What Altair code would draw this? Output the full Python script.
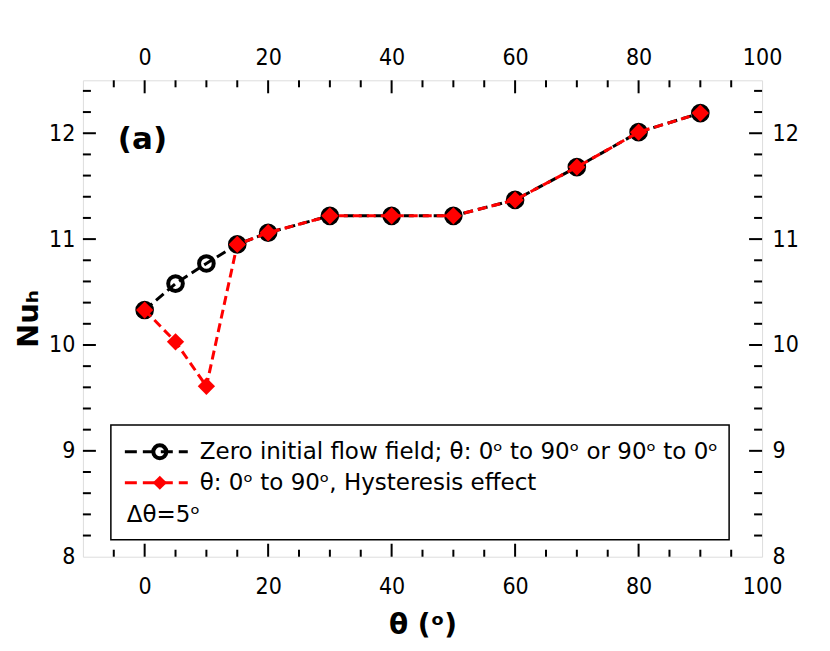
import altair as alt
import pandas as pd

# ---- data ----
theta = [0, 5, 10, 15, 20, 30, 40, 50, 60, 70, 80, 90]
nu_zero = [10.33, 10.58, 10.77, 10.95, 11.06, 11.22, 11.22, 11.22, 11.37, 11.68, 12.01, 12.19]
nu_hyst = [10.33, 10.03, 9.61, 10.95, 11.06, 11.22, 11.22, 11.22, 11.37, 11.68, 12.01, 12.19]

x_major = [0, 20, 40, 60, 80]
x_minor = [-5, 5, 10, 15, 25, 30, 35, 45, 50, 55, 65, 70, 75, 85, 90, 95]
x_labels = [0, 20, 40, 60, 80, 100]
y_major = [9, 10, 11, 12]
y_minor = [8.2, 8.4, 8.6, 8.8, 9.2, 9.4, 9.6, 9.8, 10.2, 10.4, 10.6, 10.8,
           11.2, 11.4, 11.6, 11.8, 12.2, 12.4]
y_labels = [8, 9, 10, 11, 12]

legend_labels = ["Zero initial flow field; θ: 0ᵒ to 90ᵒ or 90ᵒ to 0ᵒ",
                 "θ: 0ᵒ to 90ᵒ, Hysteresis effect",
                 "Δθ=5ᵒ"]

W, H = 680, 477
FONT = "DejaVu Sans Condensed"
BFONT = "DejaVu Sans"

xs = alt.Scale(domain=[-10, 100], nice=False, zero=False)
ys = alt.Scale(domain=[8, 12.5], nice=False, zero=False)

df_zero = pd.DataFrame({"theta": theta, "nu": nu_zero})
df_hyst = pd.DataFrame({"theta": theta, "nu": nu_hyst})
one = pd.DataFrame({"a": [0]})

layers = []

# ---- inward ticks ----
def xtick(vals, length, side):
    d = pd.DataFrame({"v": vals})
    if side == "bottom":
        yv, y2v = H, H - length
    else:
        yv, y2v = 0, length
    return alt.Chart(d).mark_rule(color="black", strokeWidth=2).encode(
        x=alt.X("v:Q", scale=xs, axis=None),
        y=alt.value(yv), y2=alt.value(y2v))

def ytick(vals, length, side):
    d = pd.DataFrame({"v": vals})
    if side == "left":
        xv, x2v = 0, length
    else:
        xv, x2v = W, W - length
    return alt.Chart(d).mark_rule(color="black", strokeWidth=2).encode(
        y=alt.Y("v:Q", scale=ys, axis=None),
        x=alt.value(xv), x2=alt.value(x2v))

for side in ["bottom", "top"]:
    layers.append(xtick(x_major, 13, side))
    layers.append(xtick(x_minor, 7, side))
for side in ["left", "right"]:
    layers.append(ytick(y_major, 13, side))
    layers.append(ytick(y_minor, 8, side))

# ---- axes (labels only) ----
ax_common = dict(ticks=False, tickSize=0, domain=False, grid=False,
                 labelFontSize=23, labelFont=FONT, labelColor="black",
                 labelFlush=False, labelOverlap=False)

axis_bottom_left = alt.Chart(df_zero).mark_point(opacity=0).encode(
    x=alt.X("theta:Q", scale=xs,
            axis=alt.Axis(orient="bottom", values=x_labels, labelPadding=19,
                          title="θ (ᵒ)", titleFontSize=28, titleFont=BFONT,
                          titleFontWeight="bold", titleColor="black",
                          titlePadding=13, **ax_common)),
    y=alt.Y("nu:Q", scale=ys,
            axis=alt.Axis(orient="left", values=y_labels, labelPadding=8,
                          title="Nuₕ", titleFontSize=29, titleFont=BFONT,
                          titleFontWeight="bold", titleColor="black",
                          titlePadding=5, **ax_common)),
)
axis_top_right = alt.Chart(df_zero).mark_point(opacity=0).encode(
    x=alt.X("theta:Q", scale=xs,
            axis=alt.Axis(orient="top", values=x_labels, labelPadding=11,
                          title=None, **ax_common)),
    y=alt.Y("nu:Q", scale=ys,
            axis=alt.Axis(orient="right", values=y_labels, labelPadding=10,
                          title=None, **ax_common)),
)
layers += [axis_bottom_left, axis_top_right]

# ---- data lines and markers ----
pts_zero = alt.Chart(df_zero).mark_point(shape="circle", filled=False,
                                         stroke="black", strokeWidth=4, size=215,
                                         opacity=1).encode(
    x=alt.X("theta:Q", scale=xs, axis=None),
    y=alt.Y("nu:Q", scale=ys, axis=None))
line_zero = alt.Chart(df_zero).mark_line(color="black", strokeWidth=3,
                                         strokeDash=[10, 5]).encode(
    x=alt.X("theta:Q", scale=xs, axis=None),
    y=alt.Y("nu:Q", scale=ys, axis=None))
line_hyst = alt.Chart(df_hyst).mark_line(color="#ff0000", strokeWidth=3,
                                         strokeDash=[9, 5]).encode(
    x=alt.X("theta:Q", scale=xs, axis=None),
    y=alt.Y("nu:Q", scale=ys, axis=None))
pts_hyst = alt.Chart(df_hyst).mark_point(shape="diamond", filled=True, fill="#ff0000",
                                         stroke="#ff0000", strokeWidth=0, size=300,
                                         opacity=1).encode(
    x=alt.X("theta:Q", scale=xs, axis=None),
    y=alt.Y("nu:Q", scale=ys, axis=None))
layers += [pts_zero, line_zero, line_hyst, pts_hyst]

# ---- legend box ----
LX0, LX1, LY0, LY1 = 28, 647, 345, 460
legend_box = alt.Chart(one).mark_rect(fill="white", stroke="black", strokeWidth=1.5).encode(
    x=alt.value(LX0), x2=alt.value(LX1), y=alt.value(LY0), y2=alt.value(LY1))
layers.append(legend_box)

rows_y = [372, 403, 435]
leg_line1 = alt.Chart(one).mark_rule(color="black", strokeWidth=3, strokeDash=[12, 6]).encode(
    x=alt.value(42), x2=alt.value(105), y=alt.value(rows_y[0]))
leg_pt1 = alt.Chart(one).mark_point(shape="circle", filled=False, stroke="black",
                                    strokeWidth=4, size=170, opacity=1).encode(
    x=alt.value(77), y=alt.value(rows_y[0]))
leg_line2 = alt.Chart(one).mark_rule(color="#ff0000", strokeWidth=3, strokeDash=[12, 6]).encode(
    x=alt.value(42), x2=alt.value(105), y=alt.value(rows_y[1]))
leg_pt2 = alt.Chart(one).mark_point(shape="diamond", filled=True, fill="#ff0000", stroke="#ff0000",
                                    strokeWidth=0, size=200, opacity=1).encode(
    x=alt.value(77), y=alt.value(rows_y[1]))
layers += [leg_line1, leg_line2, leg_pt1, leg_pt2]

leg_x = [117, 117, 44]
for i in range(3):
    layers.append(
        alt.Chart(one).mark_text(align="left", baseline="middle", fontSize=23,
                                 font=BFONT, color="black").encode(
            x=alt.value(leg_x[i]), y=alt.value(rows_y[i]),
            text=alt.value(legend_labels[i])))

# ---- panel label ----
layers.append(alt.Chart(one).mark_text(align="left", baseline="middle", fontSize=31,
                                       fontWeight="bold", font=BFONT, color="black").encode(
    x=alt.value(35), y=alt.value(60), text=alt.value("(a)")))

chart = alt.layer(*layers).resolve_axis(x="independent", y="independent").properties(
    width=W, height=H,
    autosize=alt.AutoSizeParams(type="none"),
    padding={"left": 75, "top": 72, "right": 60, "bottom": 86},
).configure_view(stroke="black", strokeWidth=2).configure(background="white")

chart.save("out.html", embed_options={"renderer": "svg", "actions": False})
